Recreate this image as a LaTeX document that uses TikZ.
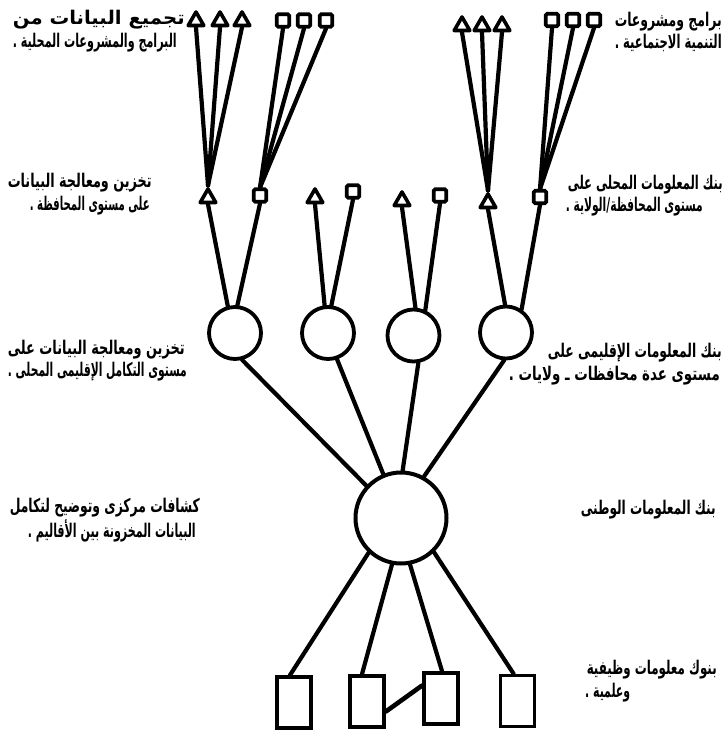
\documentclass[tikz,border=0pt]{standalone}
\usepackage{fontspec}
\usepackage{graphicx}
\newfontfamily\arabicfont[Script=Arabic]{DejaVu Sans}
\TeXXeTstate=1
\usetikzlibrary{shapes.geometric}
\newcommand\artxt[2]{\resizebox{#1pt}{1.45\height}{\arabicfont\bfseries\fontsize{13}{15}\selectfont #2}}
\begin{document}
\begin{tikzpicture}[x=1pt,y=-1pt,
  ln/.style={line width=4.2pt, line cap=round},
  tri/.style={draw, line width=3.6pt, regular polygon, regular polygon sides=3, minimum size=18pt, inner sep=0pt, line join=round},
  sq/.style={draw, line width=3.6pt, minimum size=12.5pt, inner sep=0pt, rounded corners=1.5pt},
  ring/.style={draw, circle, line width=3.8pt, minimum size=52pt, inner sep=0pt},
  bigring/.style={draw, circle, line width=4pt, minimum size=91pt, inner sep=0pt},
  tallbox/.style={draw, line width=3.8pt, minimum width=34pt, minimum height=51pt, inner sep=0pt},
  lbl/.style={inner sep=0pt}
]
\useasboundingbox (0,0) rectangle (728,732);

% top row
\node[tri] (a1) at (196,21) {};
\node[tri] (a2) at (220,21) {};
\node[tri] (a3) at (242,21) {};
\node[sq] (b1) at (283,20.5) {};
\node[sq] (b2) at (304,20.5) {};
\node[sq] (b3) at (326,20.5) {};
\node[tri] (a4) at (462,26) {};
\node[tri] (a5) at (482,26) {};
\node[tri] (a6) at (502,26) {};
\node[sq] (b4) at (552,20) {};
\node[sq] (b5) at (573,20) {};
\node[sq] (b6) at (594,20) {};

% second row
\node[tri] (t1) at (208,198) {};
\node[sq]  (s1) at (260,195.5) {};
\node[tri] (t2) at (315,198) {};
\node[sq]  (s2) at (353,191.5) {};
\node[tri] (t3) at (402,201) {};
\node[sq]  (s3) at (440,195.5) {};
\node[tri] (t4) at (488,203) {};
\node[sq]  (s4) at (540,197) {};

% circles
\node[ring] (c1) at (235,333) {};
\node[ring] (c2) at (328,333) {};
\node[ring] (c3) at (413.5,335.5) {};
\node[ring] (c4) at (506,332.5) {};
\node[bigring] (big) at (401,518) {};

% boxes
\node[tallbox] (r1) at (294,702.5) {};
\node[tallbox] (r2) at (367,701.5) {};
\node[tallbox] (r3) at (441,698.5) {};
\node[tallbox] (r4) at (517.5,701) {};

% connectors top -> second row
\draw[ln] (a1.south) -- (t1.north);
\draw[ln] (a2.south) -- (t1.north);
\draw[ln] (a3.south) -- (t1.north);
\draw[ln] (b1.south) -- (s1.north);
\draw[ln] (b2.south) -- (s1.north);
\draw[ln] (b3.south) -- (s1.north);
\draw[ln] (a4.south) -- (t4.north);
\draw[ln] (a5.south) -- (t4.north);
\draw[ln] (a6.south) -- (t4.north);
\draw[ln] (b4.south) -- (s4.north);
\draw[ln] (b5.south) -- (s4.north);
\draw[ln] (b6.south) -- (s4.north);

% second row -> circles
\draw[ln] (t1.south) -- (c1.105);
\draw[ln] (s1.south) -- (c1.85);
\draw[ln] (t2.south) -- (c2.97);
\draw[ln] (s2.south) -- (c2.83);
\draw[ln] (t3.south) -- (c3.86);
\draw[ln] (s3.south) -- (c3.65);
\draw[ln] (t4.south) -- (c4.92);
\draw[ln] (s4.south) -- (c4.56);

% circles -> big circle
\draw[ln] (c1.-75) -- (big.137);
\draw[ln] (c2.-71) -- (big.112);
\draw[ln] (c3.-80) -- (big.88);
\draw[ln] (c4.-94) -- (big.61);

% big circle -> boxes
\draw[ln] (big.227) -- ([xshift=-4pt]r1.north);
\draw[ln] (big.259) -- ([xshift=-5pt]r2.north);
\draw[ln] (big.281) -- ([xshift=1pt]r3.north);
\draw[ln] (big.314) -- ([xshift=-4pt]r4.north);
\draw[ln, line width=4.6pt] ([yshift=-10pt]r2.east) -- ([yshift=13pt]r3.west);

% labels
\node[lbl, anchor=east] (l1) at (185,20) {\artxt{172}{\beginR تجميع البيانات من\endR}};
\node[lbl, anchor=east] (l2) at (177,43) {\artxt{164}{\beginR البرامج والمشروعات المحلية .\endR}};
\node[lbl, anchor=east] (l3) at (722,22) {\artxt{107}{\beginR برامج ومشروعات\endR}};
\node[lbl, anchor=east] (l4) at (722,43) {\artxt{107}{\beginR التنمية الاجتماعية .\endR}};
\node[lbl, anchor=east] (l5) at (152,183) {\artxt{144}{\beginR تخزين ومعالجة البيانات\endR}};
\node[lbl, anchor=east] (l6) at (150,206) {\artxt{120}{\beginR على مستوى المحافظة .\endR}};
\node[lbl, anchor=east] (l7) at (723,185) {\artxt{155}{\beginR بنك المعلومات المحلى على\endR}};
\node[lbl, anchor=east] (l8) at (703,207) {\artxt{137}{\beginR مستوى المحافظة/الولاية .\endR}};
\node[lbl, anchor=east] (l9) at (185,350) {\artxt{177}{\beginR تخزين ومعالجة البيانات على\endR}};
\node[lbl, anchor=east] (l10) at (187,372) {\artxt{179}{\beginR مستوى التكامل الإقليمى المحلى .\endR}};
\node[lbl, anchor=east] (l11) at (722,353) {\artxt{174}{\beginR بنك المعلومات الإقليمى على\endR}};
\node[lbl, anchor=east] (l12) at (720,376) {\artxt{211}{\beginR مستوى عدة محافظات ـ ولايات .\endR}};
\node[lbl, anchor=east] (l13) at (200,508) {\artxt{190}{\beginR كشافات مركزى وتوضيح لتكامل\endR}};
\node[lbl, anchor=east] (l14) at (196,531) {\artxt{168}{\beginR البيانات المخزونة بين الأقاليم .\endR}};
\node[lbl, anchor=east] (l15) at (716,510) {\artxt{135}{\beginR بنك المعلومات الوطنى\endR}};
\node[lbl, anchor=east] (l16) at (717,670) {\artxt{130}{\beginR بنوك معلومات وظيفية\endR}};
\node[lbl, anchor=west] (l17) at (585,693) {\artxt{45}{\beginR وعلمية .\endR}};
\end{tikzpicture}
\end{document}
